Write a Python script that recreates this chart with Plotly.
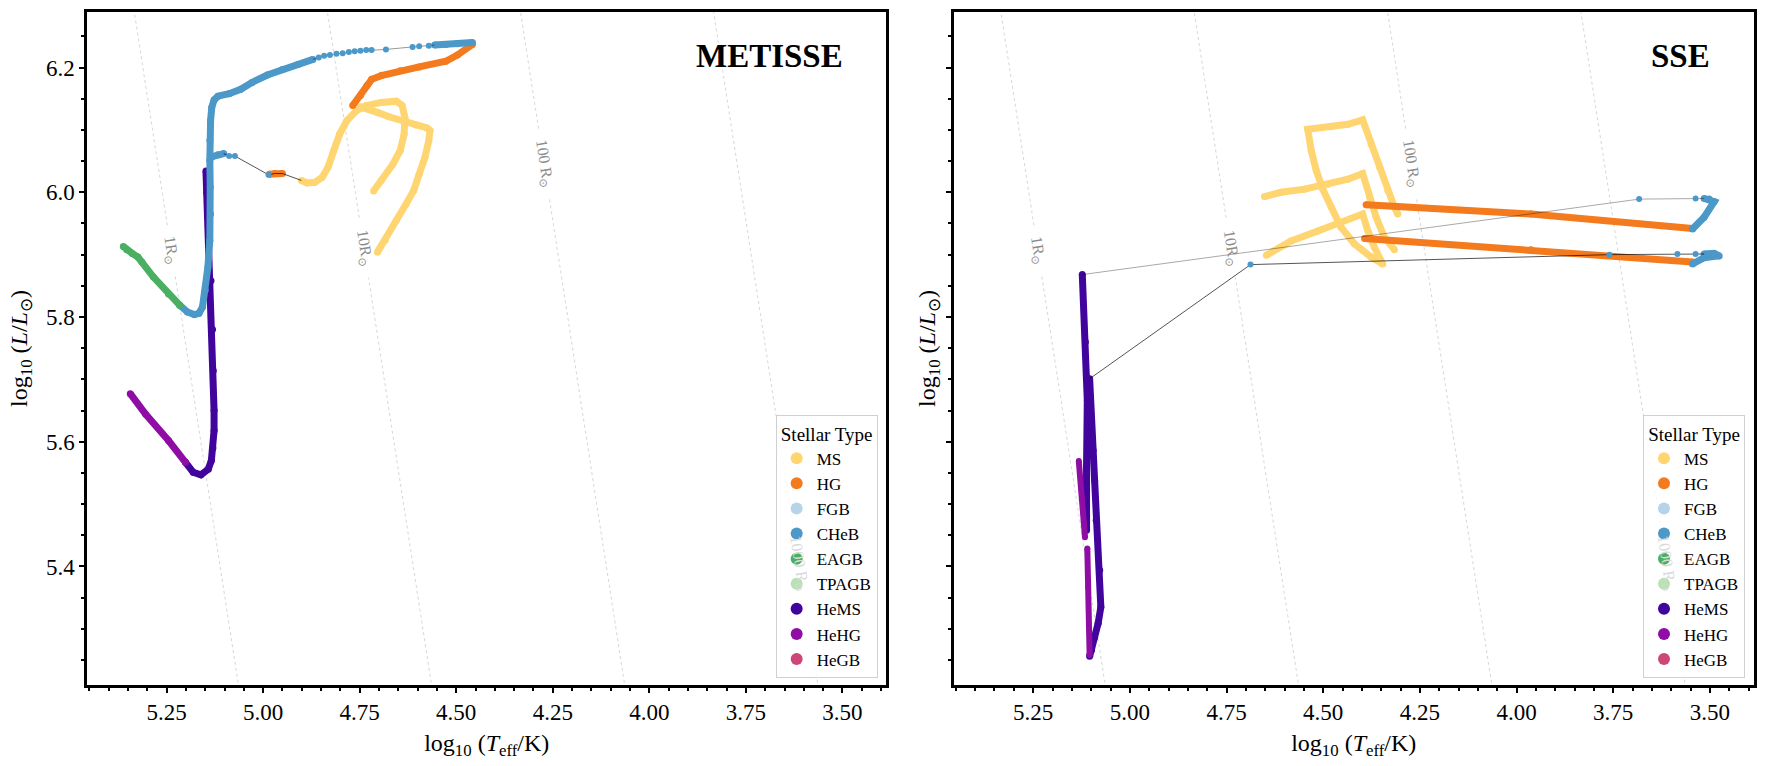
import numpy as np
import plotly.graph_objects as go
from plotly.subplots import make_subplots

# ---------------- categories / colours ----------------
TYPES = ["MS", "HG", "FGB", "CHeB", "EAGB", "TPAGB", "HeMS", "HeHG", "HeGB"]
COLORS = {"MS": "#fed570", "HG": "#f47a1e", "FGB": "#b5d4e9", "CHeB": "#4b98c9",
          "EAGB": "#4aaf61", "TPAGB": "#b7e2b1", "HeMS": "#41049d", "HeHG": "#8f0da4",
          "HeGB": "#cc4778"}

# ---------------- METISSE track (left panel) ----------------
# second track (drawn first)
met2_ms_x = [4.714, 4.694, 4.664, 4.645, 4.635, 4.633, 4.640, 4.655, 4.694, 4.733, 4.758, 4.783, 4.802, 4.817, 4.832, 4.847, 4.866, 4.886, 4.901]
met2_ms_y = [6.002, 6.019, 6.045, 6.067, 6.093, 6.120, 6.139, 6.146, 6.144, 6.139, 6.131, 6.115, 6.093, 6.067, 6.040, 6.024, 6.016, 6.015, 6.019]
met2_hg_x = [4.950, 4.970, 4.984]
met2_hg_y = [6.030, 6.030, 6.029]
met2_cheb_x = [5.102, 5.117, 5.132]
met2_cheb_y = [6.062, 6.060, 6.057]
met2_chebdot_x = [4.986, 5.073, 5.088]
met2_chebdot_y = [6.028, 6.058, 6.058]
met2_link_x = [4.901, 4.950, 4.970, 4.986, 5.073, 5.088, 5.102]
met2_link_y = [6.019, 6.030, 6.030, 6.028, 6.058, 6.058, 6.062]
met2_hems_x = [5.148, 5.146, 5.140, 5.135, 5.131, 5.129, 5.127, 5.127, 5.130, 5.134, 5.142, 5.161, 5.181, 5.201]
met2_hems_y = [6.034, 6.000, 5.930, 5.858, 5.780, 5.714, 5.650, 5.618, 5.590, 5.570, 5.556, 5.547, 5.551, 5.567]
met2_hehg_x = [5.201, 5.245, 5.304, 5.344]
met2_hehg_y = [5.567, 5.602, 5.644, 5.677]
# first track
met1_ms_x = [4.704, 4.684, 4.655, 4.630, 4.610, 4.596, 4.581, 4.571, 4.568, 4.576, 4.605, 4.635, 4.674, 4.704, 4.733, 4.748]
met1_ms_y = [5.904, 5.923, 5.955, 5.981, 6.003, 6.029, 6.056, 6.083, 6.099, 6.103, 6.108, 6.114, 6.121, 6.128, 6.135, 6.137]
met1_hg_x = [4.768, 4.748, 4.731, 4.719, 4.694, 4.645, 4.596, 4.527, 4.497, 4.458]
met1_hg_y = [6.139, 6.155, 6.171, 6.181, 6.187, 6.195, 6.201, 6.210, 6.220, 6.237]
met1_cheb_a_x = [4.458, 4.497, 4.527, 4.556]
met1_cheb_a_y = [6.240, 6.238, 6.237, 6.236]
met1_chebdot_x = [4.571, 4.596, 4.613, 4.682, 4.719, 4.733, 4.748, 4.763, 4.778, 4.794, 4.810, 4.827, 4.842, 4.856]
met1_chebdot_y = [6.235, 6.234, 6.233, 6.229, 6.228, 6.228, 6.227, 6.226, 6.225, 6.223, 6.222, 6.220, 6.219, 6.216]
met1_cheb_b_x = [4.871, 4.910, 4.950, 4.989, 5.029, 5.058, 5.088, 5.117, 5.127, 5.133, 5.136, 5.138, 5.138, 5.137, 5.136, 5.138, 5.143, 5.150, 5.157, 5.166, 5.178, 5.196, 5.216]
met1_cheb_b_y = [6.213, 6.205, 6.197, 6.188, 6.176, 6.165, 6.158, 6.154, 6.148, 6.136, 6.115, 6.083, 6.051, 6.008, 5.965, 5.923, 5.880, 5.843, 5.816, 5.806, 5.804, 5.808, 5.819]
met1_link_x = [4.556] + met1_chebdot_x + [4.871]
met1_link_y = [6.236] + met1_chebdot_y + [6.213]
met1_eagb_x = [5.216, 5.245, 5.284, 5.314, 5.324, 5.339, 5.353, 5.362]
met1_eagb_y = [5.819, 5.837, 5.864, 5.888, 5.896, 5.902, 5.908, 5.913]

# ---------------- SSE track (right panel) ----------------
sseA_ms_x = [4.647, 4.583, 4.514, 4.454, 4.398, 4.385, 4.368, 4.346, 4.376, 4.419, 4.454, 4.479, 4.501, 4.518, 4.531, 4.540, 4.479, 4.436, 4.398, 4.376, 4.354, 4.333, 4.316, 4.307]
sseA_ms_y = [5.899, 5.922, 5.938, 5.952, 5.965, 5.939, 5.912, 5.885, 5.896, 5.917, 5.944, 5.976, 6.005, 6.035, 6.067, 6.101, 6.105, 6.109, 6.116, 6.077, 6.040, 6.003, 5.976, 5.965]
sseB_ms_x = [4.652, 4.609, 4.548, 4.488, 4.436, 4.398, 4.380, 4.363, 4.342, 4.316]
sseB_ms_y = [5.993, 6.000, 6.005, 6.013, 6.021, 6.030, 5.992, 5.960, 5.928, 5.908]
sseA_hg_x = [4.389, 3.963, 3.545]
sseA_hg_y = [5.980, 5.965, 5.942]
sseB_hg_x = [4.393, 3.963, 3.545]
sseB_hg_y = [5.926, 5.908, 5.888]
sseA_cheb_x = [3.545, 3.515, 3.489, 3.502, 3.515]
sseA_cheb_y = [5.941, 5.960, 5.985, 5.989, 5.990]
sseB_cheb_x = [3.545, 3.515, 3.476, 3.489, 3.515]
sseB_cheb_y = [5.885, 5.895, 5.898, 5.902, 5.901]
sseA_chebdot_x = [3.537, 3.683]
sseA_chebdot_y = [5.990, 5.989]
sseB_chebdot_x = [3.537, 3.584, 3.760, 4.688]
sseB_chebdot_y = [5.901, 5.901, 5.900, 5.884]
sseA_link_x = [3.515, 3.537, 3.683, 5.123]
sseA_link_y = [5.990, 5.990, 5.989, 5.868]
sseB_link_x = [3.515, 3.537, 3.584, 3.760, 4.688, 5.104]
sseB_link_y = [5.901, 5.901, 5.901, 5.900, 5.884, 5.701]
sseA_hems_x = [5.123, 5.115, 5.110, 5.112, 5.112]
sseA_hems_y = [5.868, 5.760, 5.666, 5.560, 5.458]
sseB_hems_x = [5.104, 5.095, 5.091, 5.087, 5.078, 5.075, 5.082, 5.091, 5.099, 5.104]
sseB_hems_y = [5.701, 5.586, 5.538, 5.474, 5.394, 5.335, 5.309, 5.287, 5.266, 5.256]
sseA_hehg_x = [5.116, 5.124, 5.132]
sseA_hehg_y = [5.447, 5.508, 5.569]
sseB_hehg_x = [5.104, 5.108, 5.110]
sseB_hehg_y = [5.258, 5.367, 5.429]

# ---------------- constant-radius guide lines ----------------
RADII = [1, 10, 100, 1000]
RADII_LABELS = ["1R<sub>⊙</sub>", "10R<sub>⊙</sub>", "100 R<sub>⊙</sub>", "1000 R<sub>⊙</sub>"]
RADII_LABEL_LOGL = [5.907, 5.911, 6.046, 5.405]
RADII_GAP = [0.040, 0.048, 0.056, 0.064]
RADII_LABEL_COLOR = ["#8c8c8c", "#8c8c8c", "#8c8c8c", "#d9d9d9"]
LOG_TSUN = np.log10(5772.0)

X_RANGE = [5.456, 3.386]
Y_RANGE = [5.210, 6.289]
FONT = "Liberation Serif"

fig = make_subplots(rows=1, cols=2, shared_yaxes=True)


def logt_at(logl, r):
    return LOG_TSUN + (logl - 2 * np.log10(r)) / 4.0


def thick(col, x, y, t, w=7):
    fig.add_trace(go.Scatter(x=x, y=y, mode="lines+markers",
                             line=dict(color=COLORS[t], width=w),
                             marker=dict(color=COLORS[t], size=w),
                             showlegend=False, hoverinfo="skip"), row=1, col=col)


def dots(col, x, y, t, s=6):
    fig.add_trace(go.Scatter(x=x, y=y, mode="markers",
                             marker=dict(color=COLORS[t], size=s),
                             showlegend=False, hoverinfo="skip"), row=1, col=col)


def link(col, x, y, color):
    fig.add_trace(go.Scatter(x=x, y=y, mode="lines",
                             line=dict(color=color, width=0.9),
                             showlegend=False, hoverinfo="skip"), row=1, col=col)


# radius lines (both panels)
for col in (1, 2):
    for r, lab_l, gap in zip(RADII, RADII_LABEL_LOGL, RADII_GAP):
        for l0, l1 in ((4.9, lab_l - gap), (lab_l + gap, 6.6)):
            fig.add_trace(go.Scatter(x=[logt_at(l0, r), logt_at(l1, r)], y=[l0, l1],
                                     mode="lines", line=dict(color="#c4c4c4", width=0.7, dash="dot"),
                                     showlegend=False, hoverinfo="skip"), row=1, col=col)

# ---- METISSE ----
thick(1, met2_ms_x, met2_ms_y, "MS")
thick(1, met1_ms_x, met1_ms_y, "MS")
thick(1, met2_hems_x, met2_hems_y, "HeMS")
thick(1, met2_hehg_x, met2_hehg_y, "HeHG")
thick(1, met2_hg_x, met2_hg_y, "HG")
thick(1, met1_hg_x, met1_hg_y, "HG")
thick(1, met2_cheb_x, met2_cheb_y, "CHeB")
thick(1, met1_cheb_a_x, met1_cheb_a_y, "CHeB")
thick(1, met1_cheb_b_x, met1_cheb_b_y, "CHeB")
thick(1, met1_eagb_x, met1_eagb_y, "EAGB")
link(1, met2_link_x, met2_link_y, "rgba(0,0,0,0.75)")
link(1, met1_link_x, met1_link_y, "rgba(0,0,0,0.45)")
dots(1, met2_chebdot_x, met2_chebdot_y, "CHeB")
dots(1, met1_chebdot_x, met1_chebdot_y, "CHeB")

# ---- SSE ----
thick(2, sseA_ms_x, sseA_ms_y, "MS")
thick(2, sseB_ms_x, sseB_ms_y, "MS")
thick(2, sseA_hems_x, sseA_hems_y, "HeMS")
thick(2, sseB_hems_x, sseB_hems_y, "HeMS")
thick(2, sseA_hehg_x, sseA_hehg_y, "HeHG", w=6)
thick(2, sseB_hehg_x, sseB_hehg_y, "HeHG", w=6)
thick(2, sseA_hg_x, sseA_hg_y, "HG")
thick(2, sseB_hg_x, sseB_hg_y, "HG")
thick(2, sseA_cheb_x, sseA_cheb_y, "CHeB")
thick(2, sseB_cheb_x, sseB_cheb_y, "CHeB")
link(2, sseA_link_x, sseA_link_y, "rgba(0,0,0,0.38)")
link(2, sseB_link_x, sseB_link_y, "rgba(0,0,0,0.75)")
dots(2, sseA_chebdot_x, sseA_chebdot_y, "CHeB")
dots(2, sseB_chebdot_x, sseB_chebdot_y, "CHeB")

# legend-only entries
for col, lg in ((1, "legend"), (2, "legend2")):
    for t in TYPES:
        fig.add_trace(go.Scatter(x=[None], y=[None], mode="markers", name=t,
                                 marker=dict(color=COLORS[t], size=10),
                                 legend=lg, showlegend=True), row=1, col=col)

# radius labels
annotations = []
for col, xref in ((1, "x"), (2, "x2")):
    for r, lab, lab_l, c in zip(RADII, RADII_LABELS, RADII_LABEL_LOGL, RADII_LABEL_COLOR):
        annotations.append(dict(x=logt_at(lab_l, r), y=lab_l, xref=xref, yref="y",
                                text=lab, showarrow=False, textangle=81.2,
                                font=dict(family=FONT, size=16, color=c)))
annotations.append(dict(x=0.9476, y=0.9347, xref="x domain", yref="y domain", text="<b>METISSE</b>",
                        showarrow=False, xanchor="right", yanchor="middle",
                        font=dict(family=FONT, size=33, color="black")))
annotations.append(dict(x=0.9476, y=0.9347, xref="x2 domain", yref="y2 domain", text="<b>SSE</b>",
                        showarrow=False, xanchor="right", yanchor="middle",
                        font=dict(family=FONT, size=33, color="black")))

axis_common = dict(showline=True, linecolor="black", linewidth=2.5, mirror=True,
                   ticks="outside", ticklen=5, tickwidth=2, tickcolor="black",
                   showgrid=False, zeroline=False,
                   tickfont=dict(family=FONT, size=23, color="black"))

xtitle = "log<sub>10</sub> (<i>T</i><sub>eff</sub>/K)"
ytitle = "log<sub>10</sub> (<i>L</i>/<i>L</i><sub>⊙</sub>)"

fig.update_xaxes(**axis_common, range=X_RANGE, dtick=0.25, tick0=0, tickformat=".2f",
                 minor=dict(dtick=0.05, ticks="outside", ticklen=3, tickwidth=1.5, tickcolor="black"),
                 title=dict(text=xtitle, font=dict(family=FONT, size=24, color="black"), standoff=10))
fig.update_yaxes(**axis_common, range=Y_RANGE, dtick=0.2, tick0=0, tickformat=".1f",
                 minor=dict(dtick=0.05, ticks="outside", ticklen=3, tickwidth=1.5, tickcolor="black"),
                 title=dict(text=ytitle, font=dict(family=FONT, size=24, color="black"), standoff=12))
fig.update_layout(xaxis=dict(domain=[0, 0.4796]), xaxis2=dict(domain=[0.5198, 1.0]))
fig.update_yaxes(showticklabels=False, title_standoff=4, row=1, col=2)

legend_common = dict(bgcolor="rgba(255,255,255,0.8)", bordercolor="#d0d0d0", borderwidth=1,
                     font=dict(family=FONT, size=17, color="black"), itemsizing="constant",
                     title=dict(text="Stellar Type", side="top center",
                                font=dict(family=FONT, size=19, color="black")),
                     xanchor="right", yanchor="bottom", y=0.0104)

fig.update_layout(
    width=1766, height=766,
    margin=dict(l=87, r=9, t=11, b=81),
    paper_bgcolor="white", plot_bgcolor="white",
    annotations=annotations,
    legend=dict(**legend_common, x=0.4743),
    legend2=dict(**legend_common, x=0.9946),
    font=dict(family=FONT),
)

fig.write_html("out.html")
